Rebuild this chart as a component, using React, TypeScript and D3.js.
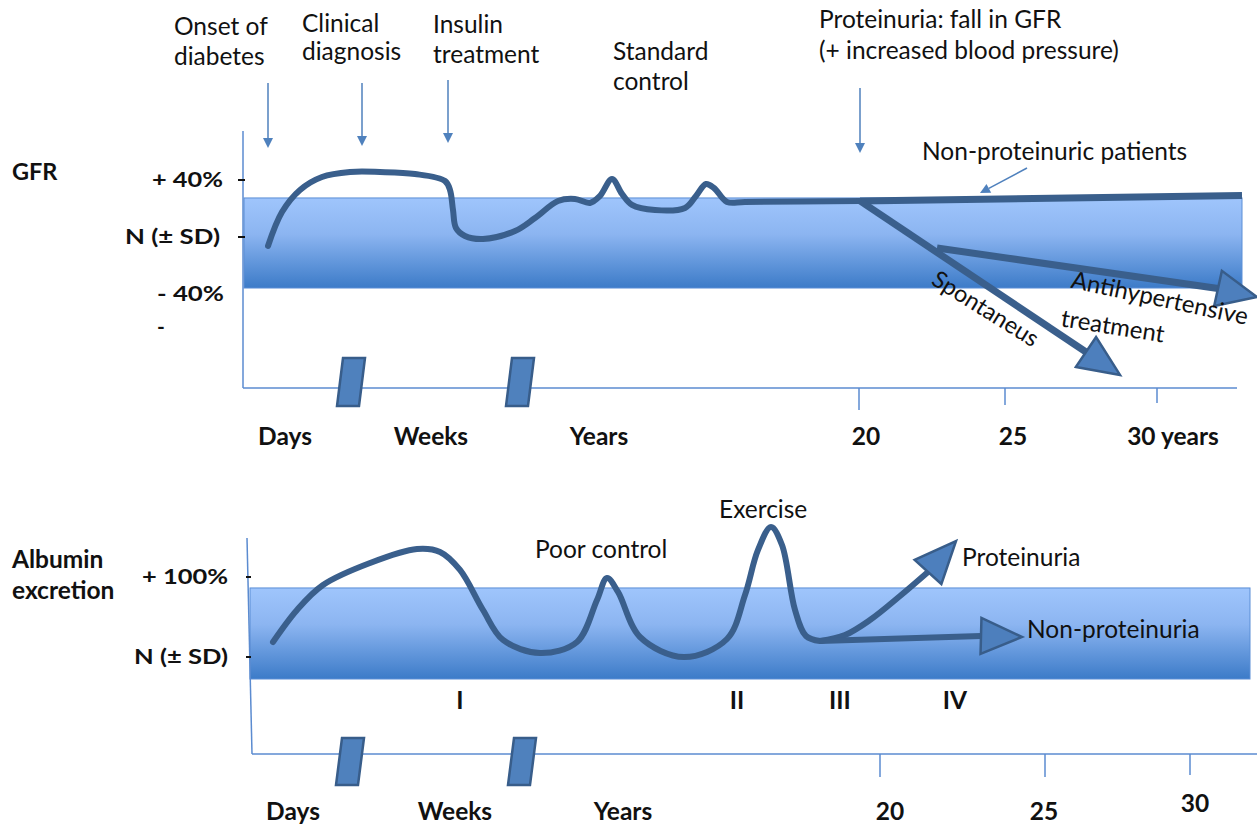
import React from "react";
import * as d3 from "d3";

const W = 1257;
const H = 825;
const FONT = "Lato, 'Open Sans', sans-serif";
const CURVE = "#3a5f8c";
const AXIS = "#5b8bd0";
const ARROW_FILL = "#4d7fbd";
const ARROW_STROKE = "#385d8a";
const LABEL_SIZE = 24.5;
const BOLD_SIZE = 24.5;

// ---------------- GFR panel data (t = abstract time, v = % from normal) ----------------
const gfrYTicks = [
  { label: "+ 40%", value: 40, dash: true, width: 71 },
  { label: "N (± SD)", value: 0, dash: true, width: 95 },
  { label: "- 40%", value: -40, dash: false, width: 67 },
];
const gfrBand = { top: 27.4, bottom: -35.8 };
const gfrCurve: [number, number][] = [
  [2.5, -6.3], [3.9, 17.5], [5.7, 33.0], [7.9, 42.1], [10.7, 45.6], [13.7, 45.6],
  [17.2, 44.2], [20.2, 39.3], [20.7, 33.0], [21.0, 18.9], [21.3, 6.3], [22.2, 0.7],
  [24.0, -1.4], [27.2, 4.2], [29.2, 13.3], [31.5, 25.3], [33.2, 26.7], [34.7, 23.9],
  [35.7, 28.8], [36.9, 40.7], [37.9, 30.2], [38.9, 22.5], [41.2, 18.9], [44.2, 20.4],
  [45.3, 28.8], [46.3, 37.2], [47.1, 34.4], [48.4, 24.6], [50.2, 24.6], [61.7, 25.3],
];
const gfrNonProteinuric: [number, number][] = [[61.7, 25.3], [99.9, 29.1]];
const gfrSpontaneous = { line: [[61.7, 25.3], [84.3, -80.7]] as [number, number][], tip: [87.7, -96.8] as [number, number] };
const gfrAntihypertensive = { line: [[69.4, -7.7], [97.5, -36.1]] as [number, number][], tip: [101.4, -42.1] as [number, number] };
const gfrEvents = [
  { t: 2.5, lines: ["Onset of", "diabetes"] },
  { t: 11.9, lines: ["Clinical", "diagnosis"] },
  { t: 20.5, lines: ["Insulin", "treatment"] },
  { t: 61.7, lines: ["Proteinuria: fall in GFR", "(+ increased blood pressure)"] },
];
const gfrXLabels = [
  { label: "Days", t: 4.2 }, { label: "Weeks", t: 18.8 }, { label: "Years", t: 35.6 },
  { label: "20", t: 62.3 }, { label: "25", t: 77.0 }, { label: "30 years", t: 93.0 },
];
const gfrXTicks = [{ t: 61.6, len: 22 }, { t: 76.2, len: 17 }, { t: 91.4, len: 15 }];
const gfrBreaks = [10.8, 27.7];

// ---------------- Albumin panel data ----------------
const albYTicks = [
  { label: "+ 100%", value: 100, width: 86 },
  { label: "N (± SD)", value: 0, width: 94 },
];
const albBand = { top: 86.3, bottom: -27.5 };
const albCurve: [number, number][] = [
  [2.3, 18.8], [4.7, 58.8], [7.3, 90.0], [12.0, 117.5], [16.7, 135.0], [19.0, 131.3],
  [21.0, 108.8], [23.3, 58.8], [25.3, 21.3], [29.0, 5.0], [32.7, 18.8], [34.7, 71.3],
  [35.7, 98.8], [36.8, 81.3], [39.0, 25.0], [43.4, 0.0], [47.7, 22.5], [49.5, 77.5],
  [50.8, 133.8], [52.1, 162.5], [53.2, 140.0], [54.5, 58.8], [55.6, 26.3], [57.0, 20.0],
];
const albProteinuria = {
  line: [[57.0, 20.0], [59.5, 27.5], [62.0, 46.3], [65.0, 76.3], [67.8, 106.3]] as [number, number][],
  tip: [70.6, 145.0] as [number, number],
};
const albNonProteinuria = {
  line: [[57.0, 20.0], [73.1, 26.3]] as [number, number][],
  tip: [77.2, 25.0] as [number, number],
};
const albStages = [
  { label: "I", t: 21.0 }, { label: "II", t: 48.7 }, { label: "III", t: 59.0 }, { label: "IV", t: 70.5 },
];
const albXLabels = [
  { label: "Days", t: 4.3 }, { label: "Weeks", t: 20.5 }, { label: "Years", t: 37.3 },
  { label: "20", t: 64.0 }, { label: "25", t: 79.4 }, { label: "30", t: 94.5 },
];
const albXTicks = [{ t: 63.0, len: 23 }, { t: 79.5, len: 23 }, { t: 94.0, len: 21 }];
const albBreaks = [10.0, 27.2];

// ---------------- helpers ----------------
function arrowHead(base: [number, number], tip: [number, number], half = 18) {
  const dx = tip[0] - base[0];
  const dy = tip[1] - base[1];
  const L = Math.hypot(dx, dy) || 1;
  const nx = (-dy / L) * half;
  const ny = (dx / L) * half;
  return `M${base[0] + nx},${base[1] + ny}L${tip[0]},${tip[1]}L${base[0] - nx},${base[1] - ny}Z`;
}

function smallArrow(x1: number, y1: number, x2: number, y2: number, key: string) {
  const dx = x2 - x1, dy = y2 - y1;
  const L = Math.hypot(dx, dy);
  const ux = dx / L, uy = dy / L;
  const len = 10, half = 5;
  const bx = x2 - ux * len, by = y2 - uy * len;
  return (
    <g key={key}>
      <line x1={x1} y1={y1} x2={bx} y2={by} stroke="#4f81bd" strokeWidth={1.5} />
      <path
        d={`M${bx - uy * half},${by + ux * half}L${x2},${y2}L${bx + uy * half},${by - ux * half}Z`}
        fill="#4f81bd"
      />
    </g>
  );
}

function breakMark(cx: number, top: number, bottom: number, key: string) {
  const w = 22, slant = 6;
  const d = `M${cx - w / 2 + slant / 2},${top}L${cx + w / 2 + slant / 2},${top}L${cx + w / 2 - slant / 2},${bottom}L${cx - w / 2 - slant / 2},${bottom}Z`;
  return <path key={key} d={d} fill="#4f81bd" stroke={ARROW_STROKE} strokeWidth={2.5} />;
}

export default function App() {
  // scales
  const xTop = d3.scaleLinear().domain([0, 100]).range([243, 1243]);
  const yTop = d3.scaleLinear().domain([-40, 40]).range([294, 180]);
  const xBot = d3.scaleLinear().domain([0, 100]).range([250, 1250]);
  const yBot = d3.scaleLinear().domain([0, 100]).range([657, 577]);

  const lineTop = d3.line<[number, number]>().x((d) => xTop(d[0])).y((d) => yTop(d[1])).curve(d3.curveCatmullRom.alpha(0.5));
  const lineTopStraight = d3.line<[number, number]>().x((d) => xTop(d[0])).y((d) => yTop(d[1]));
  const lineBot = d3.line<[number, number]>().x((d) => xBot(d[0])).y((d) => yBot(d[1])).curve(d3.curveCatmullRom.alpha(0.5));
  const lineBotStraight = d3.line<[number, number]>().x((d) => xBot(d[0])).y((d) => yBot(d[1]));

  const pTop = (d: [number, number]): [number, number] => [xTop(d[0]), yTop(d[1])];
  const pBot = (d: [number, number]): [number, number] => [xBot(d[0]), yBot(d[1])];

  const topAxisY = 388;
  const botAxisY = 754;

  const eventLabelPos = [
    { x: 174, y: [35, 65], arrow: [83, 148] },
    { x: 302, y: [32, 60], arrow: [83, 146] },
    { x: 433, y: [33, 63], arrow: [80, 143] },
    { x: 819, y: [28, 59], arrow: [88, 153] },
  ];

  const txt = { fontFamily: FONT, fill: "#111" };

  return (
    <svg width={W} height={H} viewBox={`0 0 ${W} ${H}`} style={{ position: "absolute", left: 0, top: 0, background: "#fff" }}>
      <defs>
        <linearGradient id="bandGrad" x1="0" y1="0" x2="0" y2="1">
          <stop offset="0%" stopColor="#9fc5fc" />
          <stop offset="40%" stopColor="#8cb5f1" />
          <stop offset="100%" stopColor="#3c7bc8" />
        </linearGradient>
      </defs>
      <rect x={0} y={0} width={W} height={H} fill="#fff" />

      {/* ================= GFR panel ================= */}
      <text x={12} y={180} {...txt} fontWeight={700} fontSize={23.5}>GFR</text>
      <rect
        x={xTop(0.1)} y={yTop(gfrBand.top)} width={xTop(99.9) - xTop(0.1)} height={yTop(gfrBand.bottom) - yTop(gfrBand.top)}
        fill="url(#bandGrad)" stroke="#5b8ed6" strokeWidth={1}
      />
      <line x1={xTop(0)} y1={131} x2={xTop(0)} y2={topAxisY} stroke={AXIS} strokeWidth={1.5} />
      <line x1={xTop(0)} y1={topAxisY} x2={xTop(99.4)} y2={topAxisY} stroke={AXIS} strokeWidth={1.5} />
      {gfrXTicks.map((tk, i) => (
        <line key={"gt" + i} x1={xTop(tk.t)} y1={topAxisY} x2={xTop(tk.t)} y2={topAxisY + tk.len} stroke={AXIS} strokeWidth={1.5} />
      ))}
      {gfrYTicks.map((tk, i) => {
        const right = tk.label.startsWith("-") ? 224 : tk.label.startsWith("N") ? 220 : 223;
        return (
          <g key={"gy" + i}>
            <text x={right - tk.width} y={yTop(tk.value) + 7} textLength={tk.width} lengthAdjust="spacingAndGlyphs" {...txt} fontWeight={700} fontSize={21.5}>
              {tk.label}
            </text>
            {tk.dash && <line x1={xTop(0) - 5} y1={yTop(tk.value)} x2={xTop(0) + 2} y2={yTop(tk.value)} stroke="#111" strokeWidth={2} />}
          </g>
        );
      })}
      <text x={157} y={334} {...txt} fontWeight={700} fontSize={21}>-</text>
      {gfrBreaks.map((t, i) => breakMark(xTop(t), 358, 406, "gb" + i))}
      {gfrXLabels.map((l, i) => (
        <text key={"gx" + i} x={xTop(l.t)} y={445} textAnchor="middle" {...txt} fontWeight={700} fontSize={BOLD_SIZE}>
          {l.label}
        </text>
      ))}

      {/* curves */}
      <path d={lineTop(gfrCurve) || ""} fill="none" stroke={CURVE} strokeWidth={6} strokeLinecap="round" strokeLinejoin="round" />
      <path d={lineTopStraight(gfrNonProteinuric) || ""} fill="none" stroke={CURVE} strokeWidth={7} />
      <path d={lineTopStraight(gfrSpontaneous.line) || ""} fill="none" stroke={CURVE} strokeWidth={7} />
      <path d={lineTopStraight(gfrAntihypertensive.line) || ""} fill="none" stroke={CURVE} strokeWidth={7} />
      <path d={arrowHead(pTop(gfrSpontaneous.line[1]), pTop(gfrSpontaneous.tip))} fill={ARROW_FILL} stroke={ARROW_STROKE} strokeWidth={2.5} />
      <path d={arrowHead(pTop(gfrAntihypertensive.line[1]), pTop(gfrAntihypertensive.tip))} fill={ARROW_FILL} stroke={ARROW_STROKE} strokeWidth={2.5} />

      {/* annotations */}
      {gfrEvents.map((ev, i) => {
        const p = eventLabelPos[i];
        return (
          <g key={"ev" + i}>
            {ev.lines.map((ln, j) => (
              <text key={j} x={p.x} y={p.y[j]} {...txt} fontSize={LABEL_SIZE}>{ln}</text>
            ))}
            {smallArrow(xTop(ev.t), p.arrow[0], xTop(ev.t), p.arrow[1], "ea" + i)}
          </g>
        );
      })}
      <text x={613} y={60} {...txt} fontSize={LABEL_SIZE}>Standard</text>
      <text x={613} y={90} {...txt} fontSize={LABEL_SIZE}>control</text>
      <text x={922} y={160} {...txt} fontSize={LABEL_SIZE}>Non-proteinuric patients</text>
      {smallArrow(1027, 168, 980, 193, "np")}
      <text transform="translate(986,308) rotate(32)" textAnchor="middle" dominantBaseline="central" {...txt} fontSize={23.5}>Spontaneus</text>
      <text transform="translate(1160,297) rotate(12)" textAnchor="middle" dominantBaseline="central" {...txt} fontSize={24}>Antihypertensive</text>
      <text transform="translate(1113,325) rotate(9)" textAnchor="middle" dominantBaseline="central" {...txt} fontSize={24}>treatment</text>

      {/* ================= Albumin panel ================= */}
      <text x={12} y={568} {...txt} fontWeight={700} fontSize={24.5}>Albumin</text>
      <text x={12} y={599} {...txt} fontWeight={700} fontSize={24.5}>excretion</text>
      <rect
        x={xBot(0)} y={yBot(albBand.top)} width={xBot(100) - xBot(0)} height={yBot(albBand.bottom) - yBot(albBand.top)}
        fill="url(#bandGrad)" stroke="#5b8ed6" strokeWidth={1}
      />
      <line x1={xBot(0) - 3} y1={538} x2={xBot(0) + 2} y2={botAxisY} stroke={AXIS} strokeWidth={1.5} />
      <line x1={xBot(0) + 2} y1={botAxisY} x2={W} y2={botAxisY} stroke={AXIS} strokeWidth={1.5} />
      {albXTicks.map((tk, i) => (
        <line key={"at" + i} x1={xBot(tk.t)} y1={botAxisY} x2={xBot(tk.t)} y2={botAxisY + tk.len} stroke={AXIS} strokeWidth={1.5} />
      ))}
      {albYTicks.map((tk, i) => (
        <g key={"ay" + i}>
          <text x={228 - tk.width} y={yBot(tk.value) + 7} textLength={tk.width} lengthAdjust="spacingAndGlyphs" {...txt} fontWeight={700} fontSize={21.5}>
            {tk.label}
          </text>
          <line x1={xBot(0) - 4} y1={yBot(tk.value)} x2={xBot(0) + 1} y2={yBot(tk.value)} stroke="#111" strokeWidth={2} />
        </g>
      ))}
      {albBreaks.map((t, i) => breakMark(xBot(t), 738, 785, "ab" + i))}
      {albXLabels.map((l, i) => (
        <text key={"ax" + i} x={xBot(l.t)} y={l.label === "30" ? 812 : 820} textAnchor="middle" {...txt} fontWeight={700} fontSize={BOLD_SIZE}>
          {l.label}
        </text>
      ))}
      {albStages.map((s, i) => (
        <text key={"as" + i} x={xBot(s.t)} y={709} textAnchor="middle" {...txt} fontWeight={700} fontSize={BOLD_SIZE}>
          {s.label}
        </text>
      ))}

      <path d={lineBot(albCurve) || ""} fill="none" stroke={CURVE} strokeWidth={6} strokeLinecap="round" strokeLinejoin="round" />
      <path d={lineBot(albProteinuria.line) || ""} fill="none" stroke={CURVE} strokeWidth={6} />
      <path d={lineBotStraight(albNonProteinuria.line) || ""} fill="none" stroke={CURVE} strokeWidth={6} />
      <path d={arrowHead(pBot(albProteinuria.line[albProteinuria.line.length - 1]), pBot(albProteinuria.tip))} fill={ARROW_FILL} stroke={ARROW_STROKE} strokeWidth={2.5} />
      <path d={arrowHead(pBot(albNonProteinuria.line[1]), pBot(albNonProteinuria.tip))} fill={ARROW_FILL} stroke={ARROW_STROKE} strokeWidth={2.5} />

      <text x={535} y={558} {...txt} fontSize={LABEL_SIZE}>Poor control</text>
      <text x={719} y={518} {...txt} fontSize={LABEL_SIZE}>Exercise</text>
      <text x={962} y={566} {...txt} fontSize={LABEL_SIZE}>Proteinuria</text>
      <text x={1027} y={638} {...txt} fontSize={LABEL_SIZE}>Non-proteinuria</text>
    </svg>
  );
}
